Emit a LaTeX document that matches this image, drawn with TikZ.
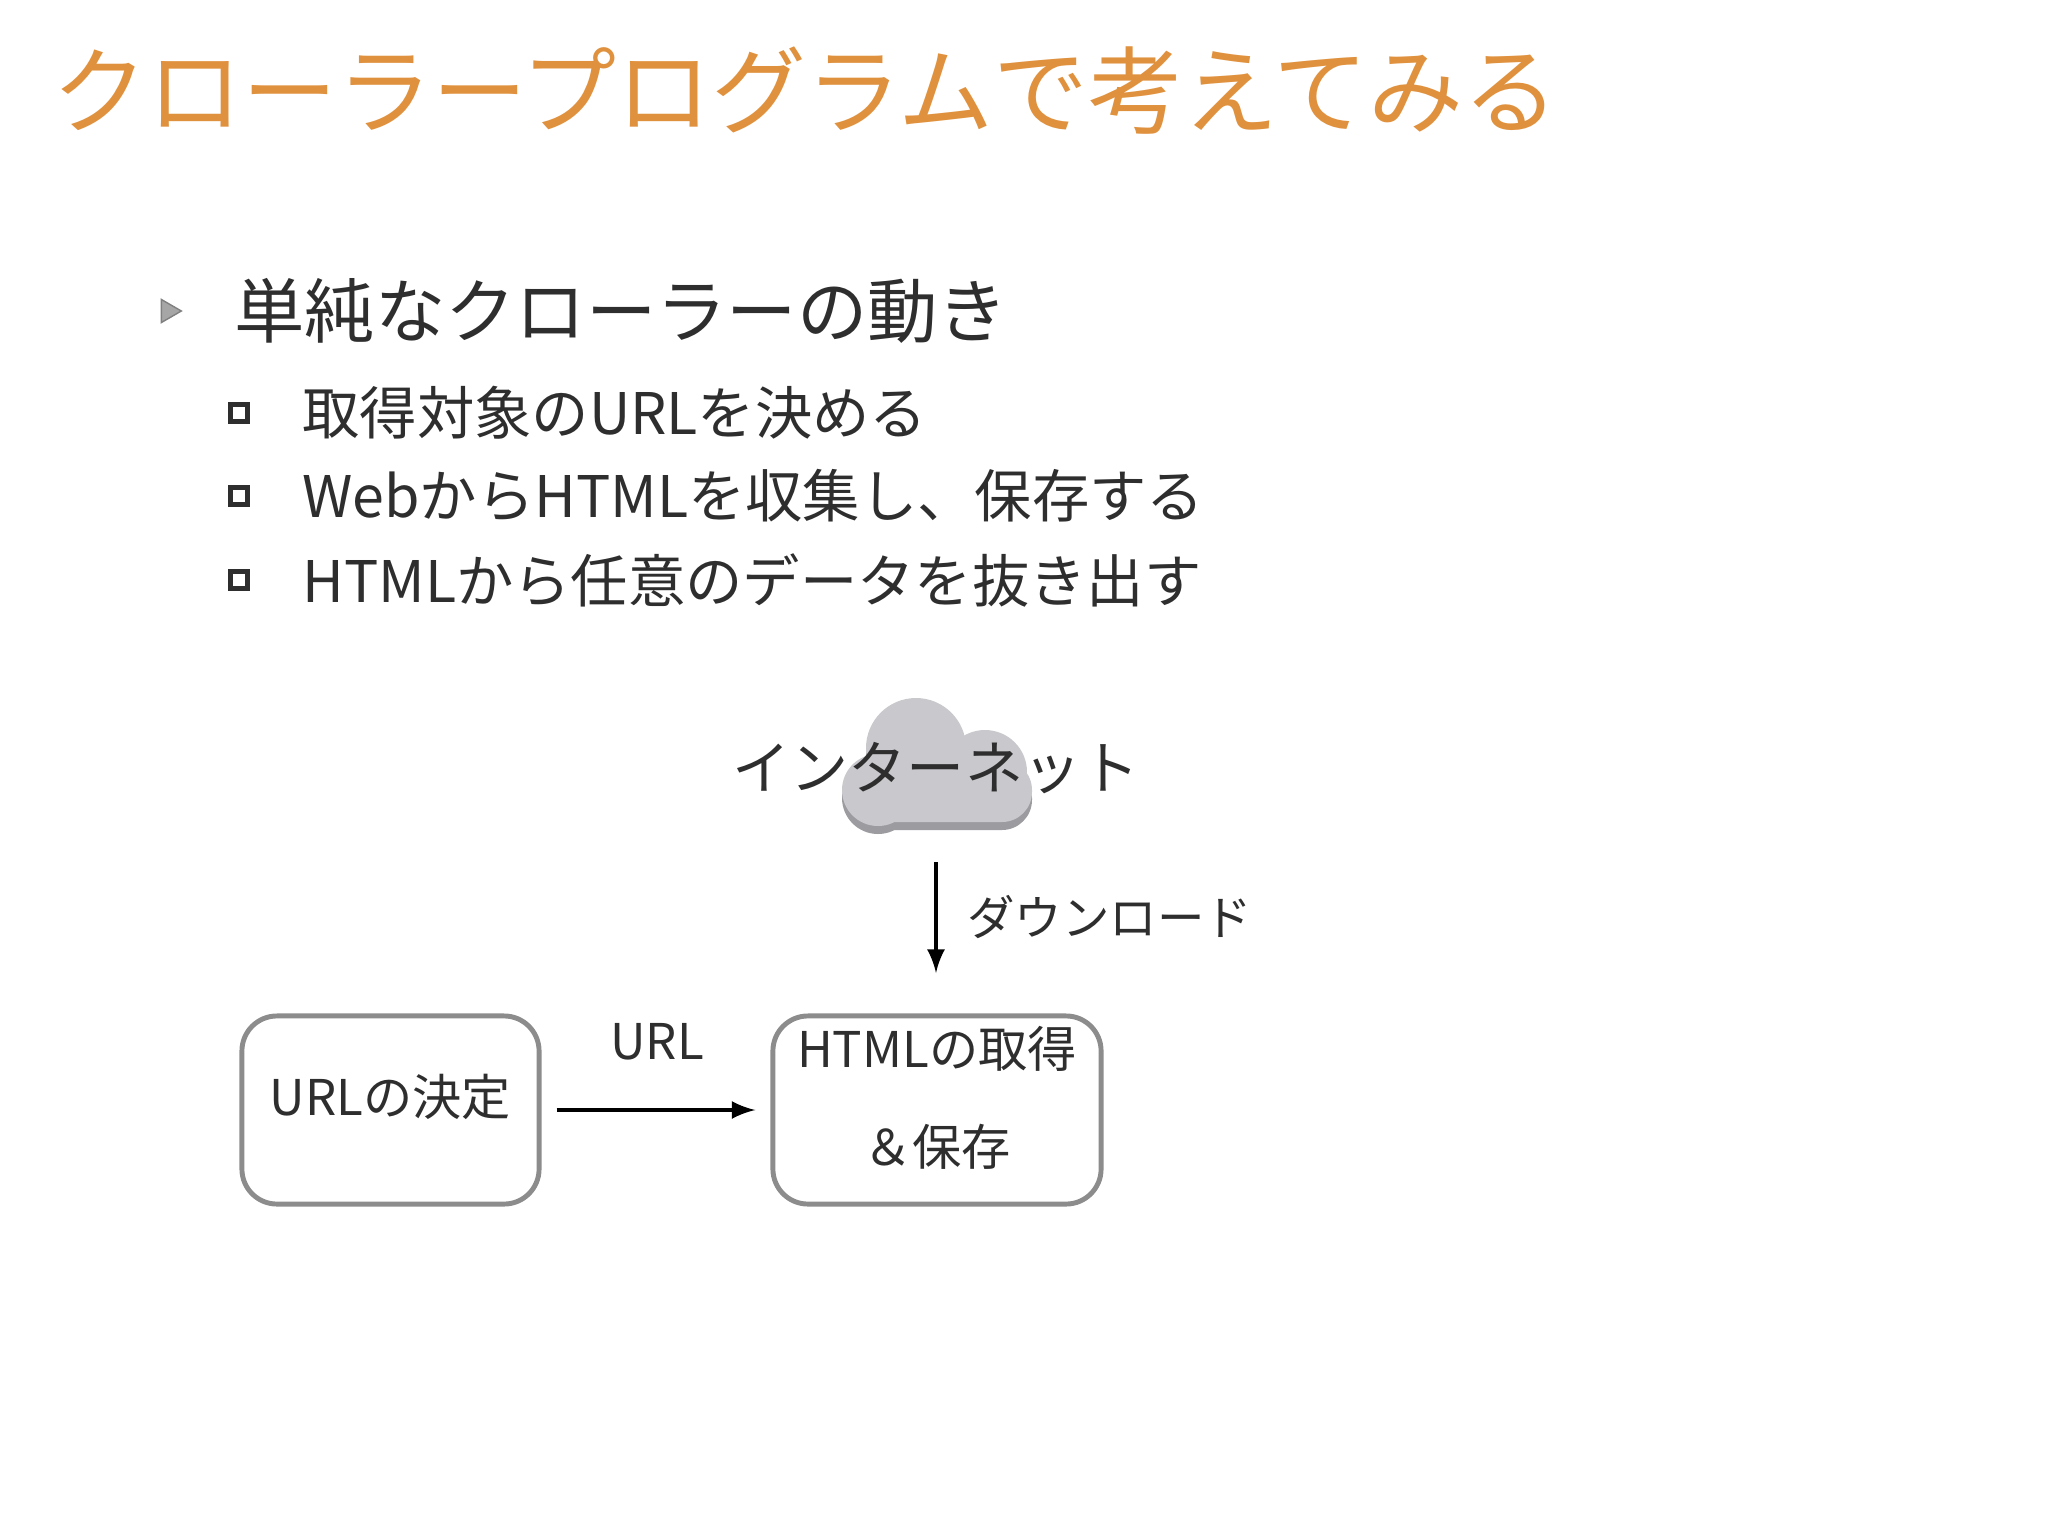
\documentclass[tikz,border=0pt]{standalone}
\usepackage{fontspec}
\usetikzlibrary{shapes.geometric}
\setmainfont{Noto Sans CJK JP}
\definecolor{ttl}{HTML}{E0913E}
\definecolor{txt}{HTML}{2E2E2E}
\definecolor{cl}{HTML}{C9C8CD}
\definecolor{cld}{HTML}{9C9BA0}
\begin{document}
\begin{tikzpicture}[x=0.01cm,y=-0.01cm,
  fs/.style={font=\fontsize{#1}{#1}\selectfont},
  boxst/.style={draw=gray!90,line width=1.4pt,rounded corners=0.35cm,minimum height=1.88cm},
  btxt/.style={text=txt,fs=14pt,align=center,inner sep=0pt},
  arr/.style={-latex,line width=1.3pt}]
\useasboundingbox (0,0) rectangle (2048,1536);
\node[anchor=west,text=ttl,fs=27pt] (title) at (40,91) {クローラープログラムで考えてみる};
\node[fill=gray!70,draw=gray,isosceles triangle,minimum size=0.2cm,inner sep=0pt,isosceles triangle apex angle=60] (tri) at (168,311) {};
\node[anchor=west,text=txt,fs=20pt] (b1) at (222,311) {単純なクローラーの動き};
\foreach \y/\t [count=\i] in {413/取得対象のURLを決める,496/WebからHTMLを収集し、保存する,580/HTMLから任意のデータを抜き出す}{
  \node[draw=txt,line width=1.5pt,minimum size=0.17cm,inner sep=0pt] (sq\i) at (239,\y) {};
  \node[anchor=west,text=txt,fs=16.3pt] (s\i) at (290,\y) {\t};
}
% cloud
\begin{scope}[shift={(0,8)}]
\fill[cld] (916,748) circle (50); \fill[cld] (985,772) circle (42); \fill[cld] (878,790) circle (36);
\fill[cld,rounded corners=0.3cm] (843,760) rectangle (1032,822);
\end{scope}
\fill[cl] (916,748) circle (50); \fill[cl] (985,772) circle (42); \fill[cl] (878,790) circle (36);
\fill[cl,rounded corners=0.3cm] (843,760) rectangle (1032,822);
\node[text=txt,fs=16.5pt] (net) at (936,768) {インターネット};
\coordinate (d1) at (936,862);
\coordinate (d2) at (936,973);
\draw[arr] (d1) -- (d2);
\node[anchor=west,text=txt,fs=13.5pt] (dl) at (955,917) {ダウンロード};
\node[boxst,minimum width=2.97cm] (b1x) at (390.5,1110) {};
\node[boxst,minimum width=3.28cm] (b2x) at (937,1110) {};
\node[btxt] (t1) at (390.5,1097) {URLの決定};
\node[btxt] (t2) at (937,1098) {HTMLの取得\\[14pt]＆保存};
\draw[arr] ([xshift=0.15cm]b1x.east) -- ([xshift=-0.15cm]b2x.west);
\node[text=txt,fs=14pt] (ul) at (657,1042) {URL};
\end{tikzpicture}
\end{document}
